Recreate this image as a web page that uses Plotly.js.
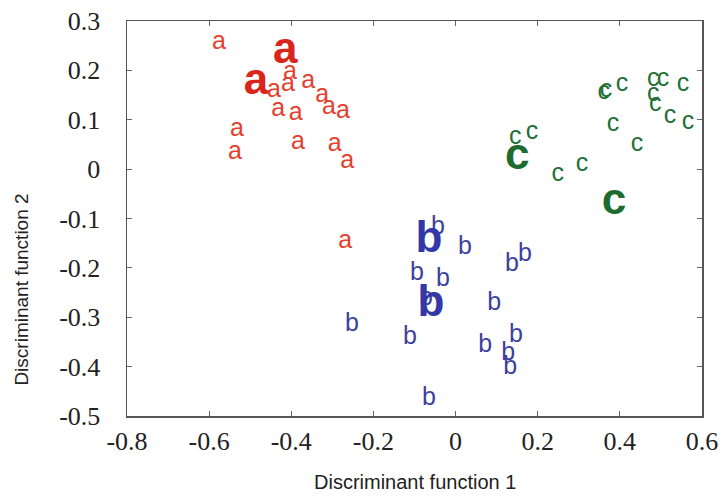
<!DOCTYPE html>
<html>
<head>
<meta charset="utf-8">
<script src="https://cdn.plot.ly/plotly-3.0.1.min.js"></script>
<style>html,body{margin:0;padding:0;background:#fff;}#chart{width:725px;height:498px;}</style>
</head>
<body>
<div id="chart"></div>
<script>
// Group a (red)
const aX = [-0.576, -0.403, -0.442, -0.408, -0.359, -0.325, -0.308, -0.274, -0.432, -0.389, -0.532, -0.537, -0.384, -0.294, -0.264, -0.269];
const aY = [0.255, 0.195, 0.158, 0.170, 0.176, 0.148, 0.124, 0.116, 0.120, 0.112, 0.079, 0.033, 0.053, 0.049, 0.014, -0.148];
const aCentroidX = [-0.415, -0.486];
const aCentroidY = [0.237, 0.174];
// Group b (blue)
const bX = [-0.043, 0.023, 0.137, 0.169, -0.094, -0.031, -0.072, 0.094, -0.252, -0.111, 0.072, 0.147, 0.128, 0.133, -0.065];
const bY = [-0.119, -0.160, -0.194, -0.174, -0.212, -0.225, -0.263, -0.273, -0.316, -0.342, -0.358, -0.338, -0.374, -0.403, -0.466];
const bCentroidX = [-0.065, -0.060];
const bCentroidY = [-0.146, -0.275];
// Group c (green)
const cX = [0.361, 0.366, 0.405, 0.481, 0.505, 0.554, 0.481, 0.486, 0.522, 0.566, 0.383, 0.442, 0.145, 0.186, 0.249, 0.308];
const cY = [0.154, 0.158, 0.170, 0.181, 0.181, 0.170, 0.150, 0.130, 0.106, 0.093, 0.089, 0.049, 0.063, 0.073, -0.012, 0.008];
const cCentroidX = [0.150, 0.386];
const cCentroidY = [0.023, -0.069];

const xTicks = [-0.8, -0.6, -0.4, -0.2, 0, 0.2, 0.4, 0.6];
const yTicks = [0.3, 0.2, 0.1, 0, -0.1, -0.2, -0.3, -0.4, -0.5];
const xTickText = ['-0.8', '-0.6', '-0.4', '-0.2', '0', '0.2', '0.4', '0.6'];
const yTickText = ['0.3', '0.2', '0.1', '0', '-0.1', '-0.2', '-0.3', '-0.4', '-0.5'];

const small = 25, big = 44;
function grp(x, y, letter, color, size, bold) {
  return {
    x: x, y: y, mode: 'text', type: 'scatter',
    text: x.map(() => letter), textposition: 'middle center',
    textfont: {family: 'Liberation Sans, Arial, sans-serif', size: size, color: color, weight: bold ? 'bold' : 'normal'},
    hoverinfo: 'skip', showlegend: false, cliponaxis: false
  };
}
const data = [
  grp(aX, aY, 'a', '#e4412f', small, false),
  grp(aCentroidX, aCentroidY, 'a', '#d8261c', big, true),
  grp(bX, bY, 'b', '#3d3f9e', small, false),
  grp(bCentroidX, bCentroidY, 'b', '#3437a8', big, true),
  grp(cX, cY, 'c', '#217034', small, false),
  grp(cCentroidX, cCentroidY, 'c', '#1d6b2e', big, true)
];
const axCommon = {
  showgrid: false, zeroline: false, showline: true, linecolor: '#555', linewidth: 1.5,
  mirror: 'ticks', ticks: 'inside', ticklen: 5, tickcolor: '#666', tickwidth: 1,
  tickfont: {family: 'Liberation Serif, Times New Roman, serif', size: 26, color: '#222'},
  tickmode: 'array'
};
const layout = {
  width: 725, height: 498,
  margin: {l: 127, r: 23, t: 21, b: 82},
  paper_bgcolor: '#fff', plot_bgcolor: '#fff',
  xaxis: Object.assign({}, axCommon, {range: [-0.8, 0.6], tickvals: xTicks, ticktext: xTickText, ticklabelstandoff: 1}),
  yaxis: Object.assign({}, axCommon, {range: [-0.5, 0.3], tickvals: yTicks, ticktext: yTickText, ticklabelstandoff: 20}),
  annotations: [
    {text: 'Discriminant function 1', xref: 'paper', yref: 'paper', x: 0.5, y: 0, yshift: -66, showarrow: false,
     font: {family: 'Liberation Sans, Arial, sans-serif', size: 20, color: '#222'}, xanchor: 'center', yanchor: 'middle'},
    {text: 'Discriminant function 2', xref: 'paper', yref: 'paper', x: 0, xshift: -105, y: 0.32, showarrow: false, textangle: -90,
     font: {family: 'Liberation Sans, Arial, sans-serif', size: 19, color: '#222'}, xanchor: 'center', yanchor: 'middle'}
  ]
};
Plotly.newPlot('chart', data, layout, {displayModeBar: false, staticPlot: true});
</script>
</body>
</html>
